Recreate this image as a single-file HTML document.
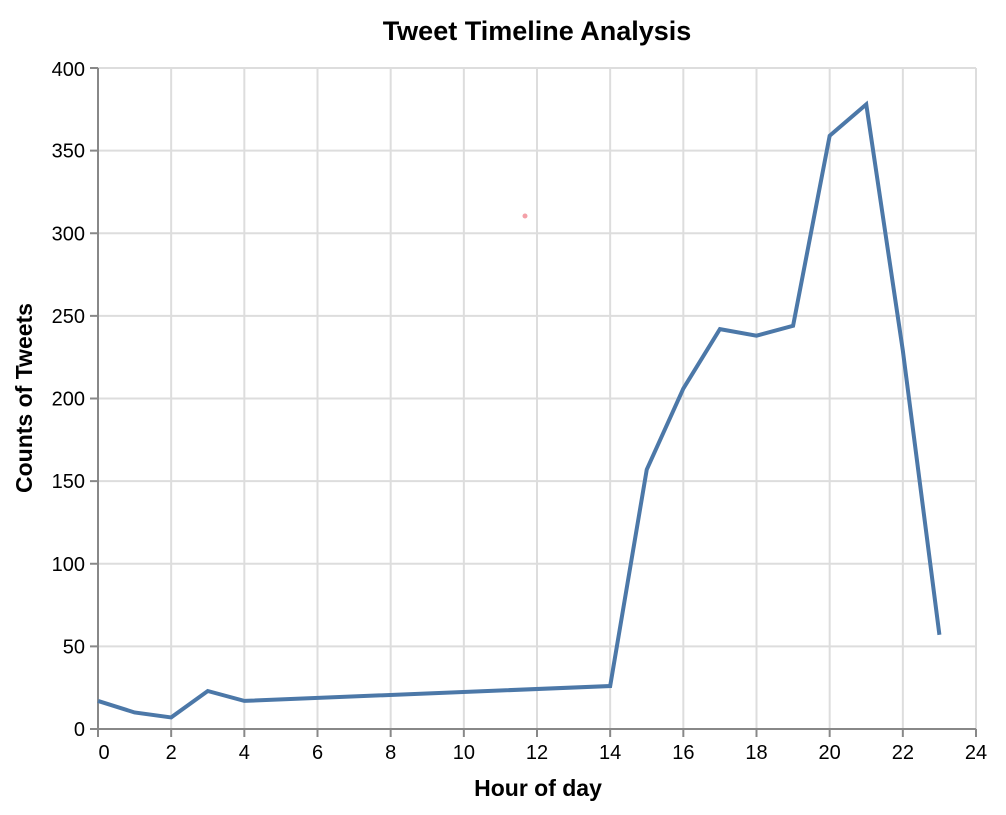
<!DOCTYPE html>
<html><head><meta charset="utf-8"><style>
body{margin:0;background:#fff;font-family:"Liberation Sans",Arial,sans-serif}
svg text{font-family:"Liberation Sans",Arial,sans-serif}
</style></head><body>
<svg id="chart" width="1006" height="810">
<text x="537" y="40" text-anchor="middle" font-size="27" font-weight="bold" fill="#000">Tweet Timeline Analysis</text>
<g id="grid"></g><g id="axes"></g><g id="marks"></g>
<circle cx="525" cy="216" r="2.5" fill="#f4a0a8"/>
<text x="538" y="796" text-anchor="middle" font-size="23" font-weight="bold">Hour of day</text>
<text transform="translate(32,398) rotate(-90)" text-anchor="middle" font-size="23" font-weight="bold">Counts of Tweets</text>
</svg>
<script>
const hours=[0,1,2,3,4,14,15,16,17,18,19,20,21,22,23];
const counts=[17,10,7,23,17,26,157,206,242,238,244,359,378,229,57];
const xTicks=[0,2,4,6,8,10,12,14,16,18,20,22,24];
const yTicks=[0,50,100,150,200,250,300,350,400];
const X0=98,X1=976,Y0=729,Y1=68;
const sx=v=>X0+(v-0)/24*(X1-X0);
const sy=v=>Y0-(v/400)*(Y0-Y1);
const NS="http://www.w3.org/2000/svg";
function mk(t,a,p){const e=document.createElementNS(NS,t);for(const k in a)e.setAttribute(k,a[k]);p.appendChild(e);return e;}
const grid=document.getElementById('grid'),axes=document.getElementById('axes'),marks=document.getElementById('marks');
xTicks.forEach(t=>{
 const l=mk('line',{x1:sx(t),x2:sx(t),y1:Y1,y2:Y0,stroke:'#ddd','stroke-width':2},grid);
 
 
 const k=mk('line',{x1:sx(t),x2:sx(t),y1:Y0,y2:Y0+8,stroke:'#888','stroke-width':2},axes);
 
 
 const tx=mk('text',{x:sx(t)+(t===0?6:0),y:Y0+30,'text-anchor':'middle','font-size':20,fill:'#000'},axes);
 tx.textContent=t;
 
 
});
yTicks.forEach(t=>{
 const l=mk('line',{x1:X0,x2:X1,y1:sy(t),y2:sy(t),stroke:'#ddd','stroke-width':2},grid);
 
 
 const k=mk('line',{x1:X0-8,x2:X0,y1:sy(t),y2:sy(t),stroke:'#888','stroke-width':2},axes);
 
 
 const tx=mk('text',{x:X0-13,y:sy(t)+(t===400?8:7),'text-anchor':'end','font-size':20,fill:'#000'},axes);
 tx.textContent=t;
 
 
});
const xa=mk('line',{x1:X0,x2:X1,y1:Y0,y2:Y0,stroke:'#888','stroke-width':2},axes);


const ya=mk('line',{x1:X0,x2:X0,y1:Y1,y2:Y0,stroke:'#888','stroke-width':2},axes);


const pts=hours.map((h,i)=>sx(h)+','+sy(counts[i])).join(' ');
const pl=mk('polyline',{points:pts,fill:'none',stroke:'#4c78a8','stroke-width':4,'stroke-linejoin':'miter'},marks);


</script>
</body></html>
